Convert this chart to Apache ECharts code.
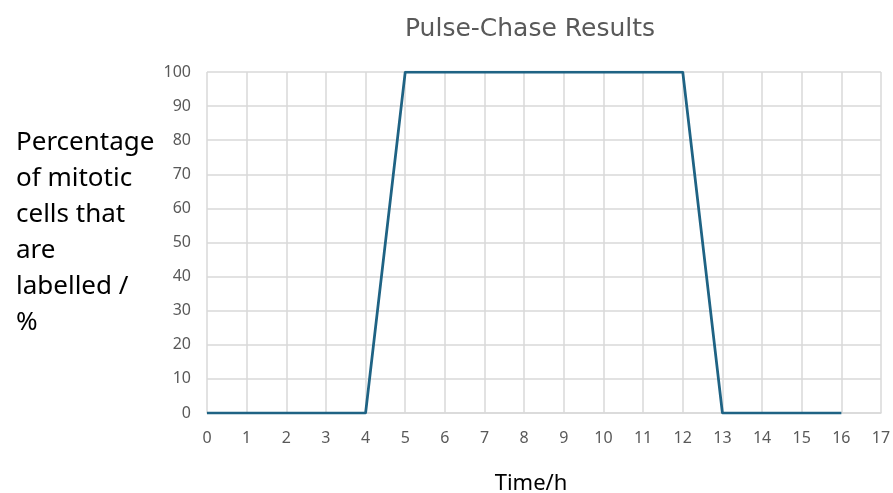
<!DOCTYPE html>
<html>
<head>
<meta charset="utf-8">
<script src="https://cdn.jsdelivr.net/npm/echarts@6/dist/echarts.min.js"></script>
<style>
  html, body { margin: 0; padding: 0; background: #fff; }
  #chart { width: 893px; height: 493px; }
</style>
</head>
<body>
<div id="chart"></div>
<script>
// Time points (hours) and the percentage of labelled mitotic cells
const timeHours = [0, 1, 2, 3, 4, 5, 6, 7, 8, 9, 10, 11, 12, 13, 14, 15, 16];
const labelledPercent = [0, 0, 0, 0, 0, 100, 100, 100, 100, 100, 100, 100, 100, 0, 0, 0, 0];
const yAxisLines = ['Percentage', 'of mitotic', 'cells that', 'are', 'labelled /', '%'];

const chart = echarts.init(document.getElementById('chart'));
const points = timeHours.map((t, i) => [t, labelledPercent[i]]);
const font = '"Noto Sans", sans-serif';

chart.setOption({
  animation: false,
  title: [
    {
      text: 'Pulse-Chase Results',
      left: 525, top: 12, textAlign: 'center',
      textStyle: { color: '#595959', fontSize: 25, fontWeight: 'normal', fontFamily: '"DejaVu Sans", sans-serif' }
    },
    {
      text: yAxisLines.join('\n'),
      left: 11, top: 120,
      textStyle: { color: '#000', fontSize: 26, fontWeight: 'normal', fontFamily: font, lineHeight: 36 }
    },
    {
      text: 'Time/h',
      left: 526, top: 468, textAlign: 'center',
      textStyle: { color: '#000', fontSize: 22, fontWeight: 'normal', fontFamily: font }
    }
  ],
  grid: { left: 207, right: 12, top: 72, bottom: 80, outerBoundsMode: 'none', containLabel: false },
  xAxis: {
    type: 'value', min: 0, max: 17, interval: 1,
    axisLine: { show: true, lineStyle: { color: '#d9d9d9', width: 1.5 } },
    axisTick: { show: false },
    axisLabel: { color: '#595959', fontSize: 16, margin: 17, fontFamily: font },
    splitLine: { show: true, lineStyle: { color: '#d9d9d9', width: 1.5 } }
  },
  yAxis: {
    type: 'value', min: 0, max: 100, interval: 10,
    axisLine: { show: false },
    axisTick: { show: false },
    axisLabel: { color: '#595959', fontSize: 16, margin: 16, fontFamily: font },
    splitLine: { show: true, lineStyle: { color: '#d9d9d9', width: 1.5 } }
  },
  series: [{
    type: 'line',
    data: points,
    showSymbol: false,
    lineStyle: { color: '#1f6384', width: 2.75 }
  }]
});
</script>
</body>
</html>
